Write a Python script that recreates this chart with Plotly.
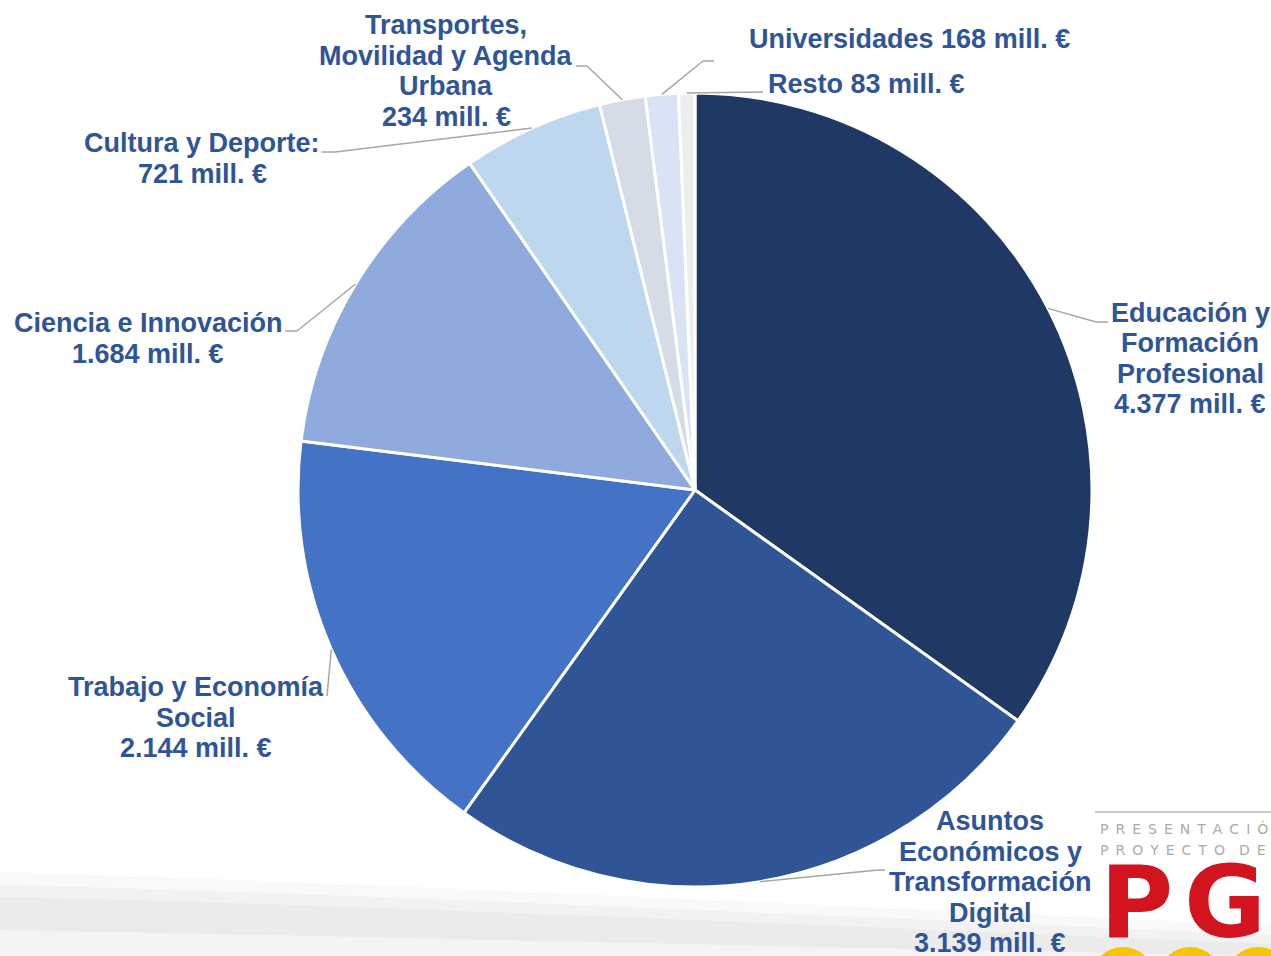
import math
import plotly.graph_objects as go

# ---------------- data ----------------
categories = [
    "Educación y Formación Profesional",
    "Asuntos Económicos y Transformación Digital",
    "Trabajo y Economía Social",
    "Ciencia e Innovación",
    "Cultura y Deporte",
    "Transportes, Movilidad y Agenda Urbana",
    "Universidades",
    "Resto",
]
values = [4377, 3139, 2144, 1684, 721, 234, 168, 83]
label_lines = [
    ["Educación y", "Formación", "Profesional", "4.377 mill. €"],
    ["Asuntos", "Económicos y", "Transformación", "Digital", "3.139 mill. €"],
    ["Trabajo y Economía", "Social", "2.144 mill. €"],
    ["Ciencia e Innovación", "1.684 mill. €"],
    ["Cultura y Deporte:", "721 mill. €"],
    ["Transportes,", "Movilidad y Agenda", "Urbana", "234 mill. €"],
    ["Universidades 168 mill. €"],
    ["Resto 83 mill. €"],
]
colors = ["#203864", "#2F5597", "#4472C4", "#8FAADC", "#BDD7EE", "#D6DCE5", "#DAE3F3", "#EDEDED"]

# ---------------- layout geometry (pixels) ----------------
W, H = 1271, 956
CX, CY, R = 695, 490, 397

# label anchor: (center x, first-line y, line spacing)
label_pos = [
    (1190, 313, 30.5),
    (990, 821, 30.5),
    (196, 687, 30.5),
    (148, 323, 30.5),
    (202, 143, 30.5),
    (446, 25, 30.7),
    (909, 39, 30.5),
    (866, 84, 30.5),
]
# leader line bend / end points
leader_pts = [
    [(1096, 322), (1108, 322)],
    [(878, 870), (885, 870)],
    [(327, 696)],
    [(297, 331), (285, 331)],
    [(335, 152), (322, 152)],
    [(587, 66), (576, 66)],
    [(703, 61), (714, 61)],
    [(763, 92)],
]


def px(x):
    return x / W


def py(y):
    return 1 - y / H


TEXT_COLOR = "#2F5597"
FONT = "Liberation Sans, Arial, sans-serif"

fig = go.Figure()

fig.add_trace(go.Pie(
    labels=categories,
    values=values,
    sort=False,
    direction="clockwise",
    rotation=0,
    textinfo="none",
    hoverinfo="label+value",
    marker=dict(colors=colors, line=dict(color="white", width=3)),
    domain=dict(x=[px(CX - R), px(CX + R)], y=[py(CY + R), py(CY - R)]),
))

shapes = []
annotations = []


def path_to_paper(path):
    toks = path.replace(",", " ").split()
    out, nums = [], []
    for t in toks:
        if t.isalpha():
            out.append(t)
        else:
            nums.append(float(t))
            if len(nums) == 2:
                out.append(f"{px(nums[0]):.5f},{py(nums[1]):.5f}")
                nums = []
    return " ".join(out)


# background grey swoosh at the bottom (layered translucent bands)
swoosh = [
    ("M 0 872 C 300 880, 700 900, 1271 925 L 1271 956 L 0 956 Z", "rgba(175,175,175,0.07)"),
    ("M 0 885 C 300 892, 700 910, 1271 935 L 1271 956 L 0 956 Z", "rgba(175,175,175,0.09)"),
    ("M 0 897 C 300 903, 700 920, 1271 944 L 1271 956 L 0 956 Z", "rgba(175,175,175,0.10)"),
    ("M 0 930 C 300 935, 700 945, 1271 956 L 0 956 Z", "rgba(255,255,255,0.45)"),
]
for path, col in swoosh:
    shapes.append(dict(type="path", path=path_to_paper(path), xref="paper", yref="paper",
                       fillcolor=col, line=dict(width=0), layer="below"))

# leader lines computed from slice mid-angles
total = sum(values)
cum = 0
for i, v in enumerate(values):
    mid = (cum + v / 2) / total * 2 * math.pi
    cum += v
    sx = CX + R * math.sin(mid)
    sy = CY - R * math.cos(mid)
    pts = [(sx, sy)] + leader_pts[i]
    for (x0, y0), (x1, y1) in zip(pts[:-1], pts[1:]):
        shapes.append(dict(type="line", xref="paper", yref="paper",
                           x0=px(x0), y0=py(y0), x1=px(x1), y1=py(y1),
                           line=dict(color="#A6A6A6", width=1.5)))

# labels (one annotation per line for exact line spacing)
for i, lines in enumerate(label_lines):
    lx, ly, sp = label_pos[i]
    for j, t in enumerate(lines):
        annotations.append(dict(
            x=px(lx), y=py(ly + j * sp), xref="paper", yref="paper",
            text=f"<b>{t}</b>", showarrow=False, xanchor="center", yanchor="middle",
            font=dict(family=FONT, size=27, color=TEXT_COLOR),
        ))

# logo in bottom-right corner (decorative)
shapes.append(dict(type="line", xref="paper", yref="paper", x0=px(1095), x1=px(1275),
                   y0=py(812), y1=py(812), line=dict(color="#C8C8C8", width=2)))
sp2 = "\u2002"
annotations.append(dict(x=px(1098), y=py(828), xref="paper", yref="paper", showarrow=False,
                        xanchor="left", yanchor="middle",
                        text=sp2.join("PRESENTACIÓ"),
                        font=dict(family="DejaVu Sans, sans-serif", size=14, color="#ABABAB")))
annotations.append(dict(x=px(1098), y=py(850), xref="paper", yref="paper", showarrow=False,
                        xanchor="left", yanchor="middle",
                        text=sp2.join("PROYECTO") + sp2 * 2 + sp2.join("DE"),
                        font=dict(family="DejaVu Sans, sans-serif", size=14, color="#ABABAB")))
for ch, cx in [("P", 1136), ("G", 1225)]:
    annotations.append(dict(x=px(cx), y=py(902), xref="paper", yref="paper", showarrow=False,
                            xanchor="center", yanchor="middle", text=f"<b>{ch}</b>",
                            font=dict(family="DejaVu Sans, sans-serif", size=100, color="#D2141E")))
for cx in [1123, 1190, 1258]:
    shapes.append(dict(type="circle", xref="paper", yref="paper",
                       x0=px(cx - 32), x1=px(cx + 32), y0=py(947 + 64), y1=py(947),
                       fillcolor="#F6C400", line=dict(width=0)))

fig.update_layout(
    width=W, height=H,
    margin=dict(l=0, r=0, t=0, b=0),
    paper_bgcolor="white",
    plot_bgcolor="white",
    showlegend=False,
    shapes=shapes,
    annotations=annotations,
)

fig.write_html(
    "out.html",
    config={"displayModeBar": False},
    post_script="document.body.style.margin='0';document.body.style.overflow='hidden';",
)
